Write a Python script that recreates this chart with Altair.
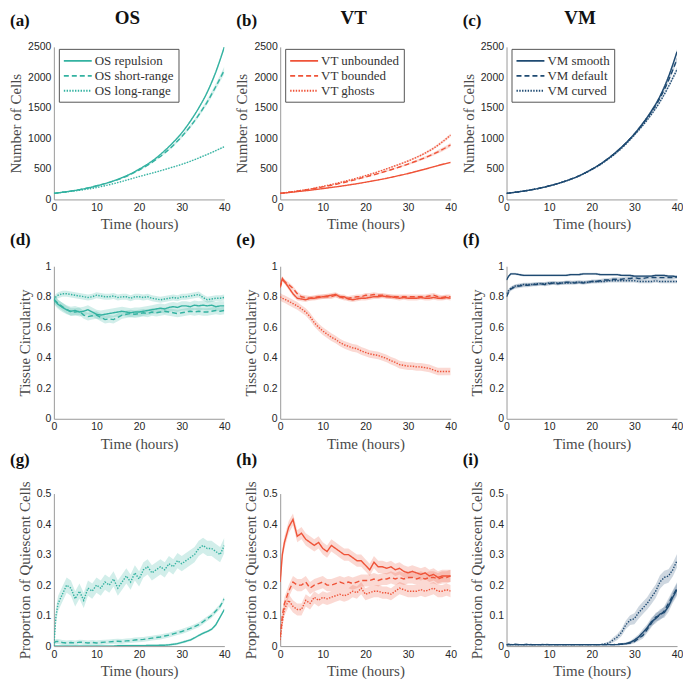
import altair as alt
import pandas as pd

# ---------------- data ----------------
T_CELLS = [0, 2, 4, 6, 8, 10, 12, 14, 16, 18, 20, 22, 24, 26, 28, 30, 32, 34, 36, 38, 40]
T_NOISY = [0, 0.5, 1, 2, 3, 4, 5, 6, 7, 8, 9, 10, 11, 12, 13, 14, 15, 16, 17, 18, 19, 20,
           21, 22, 23, 24, 25, 26, 27, 28, 29, 30, 31, 32, 33, 34, 35, 36, 37, 38, 39, 40]

OS_NAMES = ["OS repulsion", "OS short-range", "OS long-range"]
VT_NAMES = ["VT unbounded", "VT bounded", "VT ghosts"]
VM_NAMES = ["VM smooth", "VM default", "VM curved"]

# Number of cells
os_cells_rep = [100, 117, 137, 160, 188, 222, 260, 305, 358, 420, 495, 580, 680, 800, 935, 1090, 1280, 1500, 1760, 2090, 2500]
os_cells_short = [100, 117, 137, 160, 188, 222, 258, 300, 350, 410, 482, 560, 655, 760, 885, 1030, 1195, 1385, 1600, 1850, 2120]
os_cells_long = [100, 115, 132, 150, 171, 195, 225, 258, 295, 335, 375, 412, 450, 490, 532, 575, 625, 680, 738, 800, 865]
os_cells_rep_sd = [1, 1, 2, 2, 3, 3, 4, 4, 5, 6, 7, 8, 9, 11, 13, 15, 17, 20, 23, 27, 32]
os_cells_short_sd = [1, 1, 2, 2, 3, 4, 5, 6, 7, 8, 10, 12, 14, 17, 20, 24, 29, 35, 42, 50, 60]
os_cells_long_sd = [1, 1, 1, 2, 2, 2, 3, 3, 3, 4, 4, 5, 5, 6, 6, 7, 8, 9, 10, 11, 12]

vt_cells_unb = [100, 113, 128, 143, 160, 178, 196, 215, 236, 258, 282, 307, 333, 362, 393, 425, 460, 497, 535, 573, 606]
vt_cells_bnd = [100, 118, 137, 157, 180, 205, 232, 262, 295, 330, 368, 405, 445, 487, 532, 580, 630, 685, 745, 815, 895]
vt_cells_gho = [100, 118, 138, 160, 185, 215, 245, 278, 313, 350, 390, 432, 478, 527, 577, 630, 690, 760, 840, 940, 1055]
vt_cells_unb_sd = [1, 1, 1, 2, 2, 2, 3, 3, 3, 4, 4, 5, 5, 6, 6, 7, 7, 8, 9, 10, 11]
vt_cells_bnd_sd = [1, 1, 2, 2, 3, 3, 4, 5, 6, 7, 8, 9, 10, 12, 14, 16, 19, 22, 26, 30, 35]
vt_cells_gho_sd = [1, 1, 2, 2, 3, 3, 4, 5, 6, 7, 8, 9, 10, 11, 13, 15, 17, 19, 21, 24, 27]

vm_cells_smo = [100, 117, 137, 160, 188, 222, 260, 305, 357, 420, 495, 580, 680, 795, 925, 1075, 1250, 1450, 1690, 2010, 2420]
vm_cells_def = [100, 117, 137, 160, 188, 222, 260, 305, 357, 420, 494, 578, 677, 790, 920, 1070, 1240, 1435, 1660, 1950, 2300]
vm_cells_cur = [100, 117, 137, 160, 188, 221, 259, 303, 354, 415, 488, 570, 667, 776, 905, 1055, 1215, 1395, 1600, 1850, 2130]
vm_cells_smo_sd = [1, 1, 2, 2, 3, 3, 4, 5, 6, 7, 8, 9, 11, 13, 15, 18, 21, 25, 30, 37, 45]
vm_cells_def_sd = [1, 1, 2, 2, 3, 3, 4, 5, 6, 7, 8, 9, 10, 12, 14, 17, 20, 24, 29, 35, 42]
vm_cells_cur_sd = [1, 1, 2, 2, 3, 3, 4, 5, 6, 7, 8, 9, 10, 12, 14, 16, 19, 22, 26, 31, 36]

# Tissue circularity
os_circ_rep = [0.78, 0.765,
               0.75, 0.73, 0.715, 0.705, 0.71, 0.70, 0.705, 0.715, 0.70, 0.685,
               0.68, 0.685, 0.69, 0.695, 0.70, 0.705, 0.70, 0.695, 0.70, 0.70,
               0.705, 0.71, 0.715, 0.72, 0.725, 0.72, 0.73, 0.735, 0.73, 0.74,
               0.74, 0.735, 0.745, 0.74, 0.745, 0.74, 0.745, 0.735, 0.74, 0.74]
os_circ_short = [0.78, 0.77,
                 0.755, 0.735, 0.715, 0.70, 0.70, 0.705, 0.68, 0.67, 0.675, 0.68,
                 0.665, 0.65, 0.655, 0.65, 0.665, 0.68, 0.685, 0.69, 0.685, 0.69,
                 0.695, 0.69, 0.70, 0.695, 0.70, 0.705, 0.70, 0.695, 0.69, 0.695,
                 0.70, 0.705, 0.70, 0.705, 0.70, 0.70, 0.705, 0.71, 0.705, 0.71]
os_circ_long = [0.78, 0.80,
                0.81, 0.82, 0.82, 0.815, 0.81, 0.805, 0.80, 0.795, 0.80, 0.81,
                0.805, 0.80, 0.80, 0.805, 0.795, 0.80, 0.80, 0.79, 0.80, 0.80,
                0.795, 0.80, 0.79, 0.785, 0.78, 0.785, 0.79, 0.795, 0.79, 0.80,
                0.80, 0.805, 0.81, 0.815, 0.795, 0.78, 0.785, 0.79, 0.79, 0.795]
os_circ_sd = [0.03, 0.025, 0.02]

vt_circ_unb = [0.87, 0.92,
               0.90, 0.86, 0.82, 0.79, 0.785, 0.78, 0.79, 0.79, 0.795, 0.80,
               0.805, 0.81, 0.815, 0.80, 0.80, 0.785, 0.78, 0.785, 0.79, 0.79,
               0.795, 0.80, 0.80, 0.805, 0.80, 0.80, 0.795, 0.79, 0.795, 0.79,
               0.79, 0.79, 0.795, 0.79, 0.79, 0.795, 0.79, 0.79, 0.795, 0.79]
vt_circ_bnd = [0.86, 0.91,
               0.90, 0.88, 0.855, 0.82, 0.80, 0.795, 0.79, 0.795, 0.80, 0.80,
               0.80, 0.80, 0.81, 0.80, 0.79, 0.79, 0.795, 0.80, 0.80, 0.81,
               0.81, 0.815, 0.81, 0.81, 0.805, 0.80, 0.80, 0.80, 0.80, 0.80,
               0.80, 0.80, 0.80, 0.80, 0.805, 0.81, 0.80, 0.795, 0.80, 0.80]
vt_circ_gho = [0.80, 0.79,
               0.785, 0.77, 0.755, 0.74, 0.72, 0.70, 0.67, 0.63, 0.60, 0.575,
               0.555, 0.535, 0.52, 0.50, 0.485, 0.475, 0.465, 0.46, 0.445, 0.435,
               0.425, 0.42, 0.415, 0.405, 0.395, 0.38, 0.37, 0.355, 0.35, 0.345,
               0.345, 0.34, 0.34, 0.335, 0.33, 0.32, 0.31, 0.31, 0.31, 0.31]
vt_circ_sd = [0.015, 0.015, 0.025]

vm_circ_smo = [0.91, 0.935,
               0.95, 0.95, 0.945, 0.94, 0.94, 0.94, 0.94, 0.94, 0.94, 0.94,
               0.94, 0.94, 0.94, 0.94, 0.945, 0.945, 0.945, 0.95, 0.95, 0.95,
               0.95, 0.945, 0.945, 0.945, 0.945, 0.945, 0.94, 0.94, 0.94, 0.935,
               0.935, 0.935, 0.935, 0.935, 0.94, 0.94, 0.94, 0.935, 0.935, 0.93]
vm_circ_def = [0.80, 0.83,
               0.85, 0.865, 0.87, 0.875, 0.875, 0.88, 0.88, 0.885, 0.88, 0.885,
               0.89, 0.885, 0.89, 0.895, 0.895, 0.89, 0.895, 0.89, 0.895, 0.90,
               0.90, 0.905, 0.91, 0.91, 0.915, 0.915, 0.915, 0.92, 0.92, 0.925,
               0.92, 0.92, 0.925, 0.925, 0.925, 0.925, 0.925, 0.925, 0.925, 0.93]
vm_circ_cur = [0.82, 0.84,
               0.855, 0.87, 0.875, 0.88, 0.88, 0.88, 0.885, 0.885, 0.885, 0.89,
               0.89, 0.89, 0.89, 0.89, 0.89, 0.895, 0.895, 0.895, 0.895, 0.90,
               0.90, 0.90, 0.90, 0.905, 0.905, 0.905, 0.905, 0.905, 0.905, 0.905,
               0.90, 0.90, 0.90, 0.90, 0.905, 0.90, 0.90, 0.90, 0.90, 0.90]
vm_circ_sd = [0.008, 0.012, 0.012]

# Proportion of quiescent cells
os_q_rep = [0, 0,
            0, 0, 0, 0, 0, 0, 0, 0, 0, 0,
            0, 0, 0, 0, 0.001, 0.001, 0.001, 0.001, 0.001, 0.001,
            0.001, 0.002, 0.002, 0.002, 0.003, 0.003, 0.004, 0.006, 0.008, 0.012,
            0.016, 0.02, 0.027, 0.035, 0.042, 0.048, 0.055, 0.07, 0.095, 0.12]
os_q_short = [0.01, 0.015,
              0.015, 0.012, 0.01, 0.012, 0.01, 0.013, 0.012, 0.01, 0.012, 0.01,
              0.012, 0.013, 0.014, 0.015, 0.016, 0.015, 0.017, 0.018, 0.02, 0.021,
              0.022, 0.024, 0.026, 0.028, 0.03, 0.033, 0.036, 0.04, 0.044, 0.048,
              0.053, 0.058, 0.064, 0.07, 0.08, 0.09, 0.10, 0.115, 0.13, 0.155]
os_q_long = [0, 0.10,
             0.14, 0.17, 0.20, 0.19, 0.155, 0.18, 0.15, 0.19, 0.18, 0.20,
             0.19, 0.21, 0.20, 0.22, 0.19, 0.21, 0.23, 0.21, 0.24, 0.22,
             0.25, 0.26, 0.24, 0.25, 0.26, 0.25, 0.27, 0.26, 0.28, 0.27,
             0.28, 0.29, 0.30, 0.32, 0.33, 0.32, 0.32, 0.31, 0.30, 0.33]
os_q_sd = [0.004, 0.008, 0.025]

vt_q_unb = [0.21, 0.30,
            0.34, 0.39, 0.415, 0.36, 0.37, 0.35, 0.34, 0.33, 0.34, 0.32,
            0.31, 0.33, 0.32, 0.31, 0.30, 0.30, 0.29, 0.28, 0.28, 0.265,
            0.25, 0.275, 0.26, 0.26, 0.255, 0.26, 0.25, 0.255, 0.245, 0.24,
            0.245, 0.24, 0.235, 0.24, 0.23, 0.235, 0.225, 0.23, 0.23, 0.23]
vt_q_bnd = [0.03, 0.10,
            0.14, 0.18, 0.21, 0.20, 0.20, 0.21, 0.19, 0.20, 0.205, 0.21,
            0.20, 0.20, 0.205, 0.21, 0.205, 0.21, 0.205, 0.21, 0.215, 0.215,
            0.215, 0.22, 0.215, 0.22, 0.22, 0.225, 0.22, 0.225, 0.22, 0.225,
            0.225, 0.22, 0.225, 0.22, 0.225, 0.225, 0.22, 0.225, 0.225, 0.23]
vt_q_gho = [0.02, 0.08,
            0.12, 0.15, 0.13, 0.12, 0.12, 0.15, 0.14, 0.16, 0.15, 0.16,
            0.155, 0.16, 0.165, 0.17, 0.165, 0.17, 0.18, 0.175, 0.19, 0.17,
            0.175, 0.18, 0.18, 0.175, 0.175, 0.17, 0.18, 0.19, 0.185, 0.18,
            0.18, 0.18, 0.185, 0.18, 0.185, 0.19, 0.18, 0.18, 0.185, 0.18]
vt_q_sd = [0.02, 0.02, 0.02]

vm_q_smo = [0.005, 0.005,
            0.005, 0.005, 0.005, 0.005, 0.005, 0.005, 0.005, 0.005, 0.005, 0.005,
            0.005, 0.005, 0.005, 0.005, 0.005, 0.005, 0.005, 0.005, 0.005, 0.005,
            0.005, 0.005, 0.005, 0.005, 0.005, 0.005, 0.006, 0.008, 0.012, 0.02,
            0.03, 0.045, 0.06, 0.08, 0.09, 0.105, 0.11, 0.13, 0.16, 0.185]
vm_q_def = [0.005, 0.006,
            0.005, 0.006, 0.005, 0.005, 0.006, 0.005, 0.005, 0.005, 0.006, 0.005,
            0.005, 0.005, 0.005, 0.005, 0.005, 0.005, 0.005, 0.005, 0.005, 0.005,
            0.005, 0.005, 0.005, 0.005, 0.005, 0.006, 0.007, 0.008, 0.01, 0.015,
            0.025, 0.035, 0.055, 0.075, 0.095, 0.10, 0.115, 0.14, 0.165, 0.19]
vm_q_cur = [0.005, 0.005,
            0.005, 0.005, 0.005, 0.005, 0.005, 0.005, 0.005, 0.005, 0.005, 0.005,
            0.005, 0.005, 0.005, 0.005, 0.005, 0.005, 0.005, 0.005, 0.005, 0.005,
            0.005, 0.005, 0.007, 0.01, 0.02, 0.03, 0.045, 0.07, 0.085, 0.09,
            0.11, 0.125, 0.14, 0.16, 0.18, 0.21, 0.225, 0.23, 0.25, 0.28]
vm_q_smo_sd = [0.002, 0.002,
               0.002, 0.002, 0.002, 0.002, 0.002, 0.002, 0.002, 0.002, 0.002, 0.002,
               0.002, 0.002, 0.002, 0.002, 0.002, 0.002, 0.002, 0.002, 0.002, 0.002,
               0.002, 0.002, 0.002, 0.002, 0.002, 0.002, 0.003, 0.004, 0.005, 0.007,
               0.009, 0.011, 0.012, 0.014, 0.015, 0.016, 0.017, 0.018, 0.019, 0.02]
vm_q_def_sd = [0.002, 0.002,
               0.002, 0.002, 0.002, 0.002, 0.002, 0.002, 0.002, 0.002, 0.002, 0.002,
               0.002, 0.002, 0.002, 0.002, 0.002, 0.002, 0.002, 0.002, 0.002, 0.002,
               0.002, 0.002, 0.002, 0.002, 0.002, 0.002, 0.003, 0.004, 0.005, 0.006,
               0.008, 0.01, 0.012, 0.013, 0.014, 0.015, 0.016, 0.017, 0.018, 0.019]
vm_q_cur_sd = [0.002, 0.002,
               0.002, 0.002, 0.002, 0.002, 0.002, 0.002, 0.002, 0.002, 0.002, 0.002,
               0.002, 0.002, 0.002, 0.002, 0.002, 0.002, 0.002, 0.002, 0.002, 0.002,
               0.002, 0.002, 0.003, 0.005, 0.008, 0.01, 0.012, 0.014, 0.016, 0.018,
               0.02, 0.02, 0.02, 0.022, 0.022, 0.022, 0.022, 0.022, 0.022, 0.022]

# ---------------- style ----------------
TEAL = "#33B2A1"
RED = "#EF5338"
NAVY = "#1E4A72"
DASHES = [[1, 0], [5, 3], [1.4, 1.4]]
SERIF = "Liberation Serif"
SANS = "Liberation Sans"
W, H = 171, 153


def axis(title, values):
    return alt.Axis(values=values, labelExpr="toString(datum.value)", title=title,
                    labelFont=SANS, labelFontSize=10.5, labelColor="#262626", labelPadding=3,
                    labelFlush=False, ticks=False, domainColor="#9a9a9a", domainWidth=1, grid=False,
                    titleFont=SERIF, titleFontSize=15, titleFontWeight=400, titleColor="#4a4a4a")


def panel(label, t, names, series, bands, color, ytitle, ymax, yticks, show_legend, interp):
    rows = []
    for name, vals, band in zip(names, series, bands):
        bl = band if isinstance(band, list) else [band] * len(vals)
        for ti, v, b in zip(t, vals, bl):
            rows.append({"t": ti, "v": v, "lo": max(v - b, 0), "hi": v + b, "series": name})
    df = pd.DataFrame(rows)

    x = alt.X("t:Q", scale=alt.Scale(domain=[0, 40], nice=False),
              axis=axis("Time (hours)", [0, 10, 20, 30, 40]))
    yaxis = axis(ytitle, yticks)
    yscale = alt.Scale(domain=[0, ymax], nice=False)

    band = alt.Chart(df).mark_area(color=color, opacity=0.22, interpolate=interp, clip=True).encode(
        x=x, y=alt.Y("lo:Q", scale=yscale, axis=yaxis), y2="hi:Q", detail="series:N")

    if show_legend:
        leg = alt.Legend(orient="none", legendX=5, legendY=2, title=None,
                         symbolType="M-1,0L3,0", symbolSize=196,
                         symbolStrokeColor=color, symbolStrokeWidth=1.8,
                         labelFont=SERIF, labelFontSize=13, labelColor="#333333",
                         strokeColor="#555555", fillColor="white", padding=4,
                         rowPadding=0, labelOffset=16, cornerRadius=0)
    else:
        leg = None
    line = alt.Chart(df).mark_line(color=color, strokeWidth=1.4, interpolate=interp, clip=True).encode(
        x=x, y=alt.Y("v:Q", scale=yscale, axis=yaxis),
        strokeDash=alt.StrokeDash("series:N", sort=names,
                                  scale=alt.Scale(domain=names, range=DASHES), legend=leg),
        detail="series:N")
    return alt.layer(band, line).properties(
        width=W, height=H,
        title=alt.Title(label, anchor="start", frame="group", dx=-44, offset=12,
                        fontSize=17, font=SERIF, fontWeight="bold", color="#111111"))


CELL_TICKS = [0, 500, 1000, 1500, 2000, 2500]
CIRC_TICKS = [0, 0.2, 0.4, 0.6, 0.8, 1]
Q_TICKS = [0, 0.1, 0.2, 0.3, 0.4, 0.5]

columns = [
    ("OS", TEAL, OS_NAMES, ["(a)", "(d)", "(g)"],
     [os_cells_rep, os_cells_short, os_cells_long], [os_cells_rep_sd, os_cells_short_sd, os_cells_long_sd],
     [os_circ_rep, os_circ_short, os_circ_long], os_circ_sd,
     [os_q_rep, os_q_short, os_q_long], os_q_sd),
    ("VT", RED, VT_NAMES, ["(b)", "(e)", "(h)"],
     [vt_cells_unb, vt_cells_bnd, vt_cells_gho], [vt_cells_unb_sd, vt_cells_bnd_sd, vt_cells_gho_sd],
     [vt_circ_unb, vt_circ_bnd, vt_circ_gho], vt_circ_sd,
     [vt_q_unb, vt_q_bnd, vt_q_gho], vt_q_sd),
    ("VM", NAVY, VM_NAMES, ["(c)", "(f)", "(i)"],
     [vm_cells_smo, vm_cells_def, vm_cells_cur], [vm_cells_smo_sd, vm_cells_def_sd, vm_cells_cur_sd],
     [vm_circ_smo, vm_circ_def, vm_circ_cur], vm_circ_sd,
     [vm_q_smo, vm_q_def, vm_q_cur], [vm_q_smo_sd, vm_q_def_sd, vm_q_cur_sd]),
]

cols = []
for name, color, names, labels, cells, cells_sd, circ, circ_sd, q, q_sd in columns:
    p1 = panel(labels[0], T_CELLS, names, cells, cells_sd, color, "Number of Cells", 2500, CELL_TICKS, True, "monotone")
    p2 = panel(labels[1], T_NOISY, names, circ, circ_sd, color, "Tissue Circularity", 1, CIRC_TICKS, False, "linear")
    p3 = panel(labels[2], T_NOISY, names, q, q_sd, color, "Proportion of Quiescent Cells", 0.5, Q_TICKS, False, "linear")
    lower = alt.vconcat(p2, p3, spacing=75, bounds="flush")
    col = alt.vconcat(p1, lower, spacing=67, bounds="flush",
                      title=alt.Title(name, anchor="middle", frame="bounds", dx=8, offset=-16,
                                      fontSize=19, font=SERIF, fontWeight="bold", color="#111111"))
    cols.append(col)

chart = alt.hconcat(*cols, spacing=4).resolve_scale(
    strokeDash="independent"
).properties(padding=0).configure_view(
    strokeWidth=0
)

chart.save("out.html", embed_options={"renderer": "svg", "actions": False})
